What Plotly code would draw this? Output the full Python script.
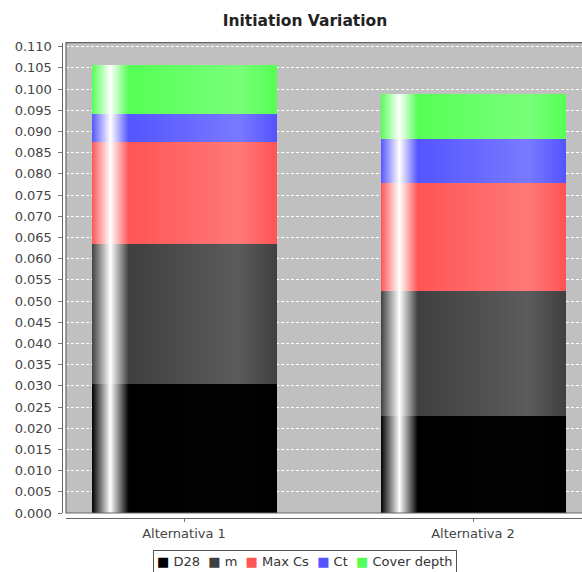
import plotly.graph_objects as go

# ---- data -----------------------------------------------------------------
categories = ["Alternativa 1", "Alternativa 2"]
series_names = ["D28", "m", "Max Cs", "Ct", "Cover depth"]
d28 = [0.0304, 0.0229]
m = [0.0332, 0.0295]
max_cs = [0.0240, 0.0256]
ct = [0.0067, 0.0104]
cover_depth = [0.0114, 0.0104]
series_values = [d28, m, max_cs, ct, cover_depth]

# base colours of each series (RGB)
series_colors = [(0, 0, 0), (64, 64, 64), (255, 85, 85), (85, 85, 255), (85, 255, 85)]

W, H = 582, 572
BAR_WIDTH = 0.637      # in category units
N_STRIPS = 184         # horizontal resolution of the bar shading


def brighter(c):
    """Same rule as java.awt.Color.brighter()."""
    r, g, b = c
    i = int(1.0 / (1.0 - 0.7))
    if r == 0 and g == 0 and b == 0:
        return (i, i, i)
    out = []
    for v in (r, g, b):
        if 0 < v < i:
            v = i
        out.append(min(int(v / 0.7), 255))
    return tuple(out)


def lerp(a, b, f):
    return tuple(int(round(a[j] + (b[j] - a[j]) * f)) for j in range(3))


def shade(c, t, g1=0.10, g2=0.20, g3=0.80):
    """Glossy left-to-right bar gradient."""
    white = (255, 255, 255)
    c1 = brighter(c)
    if t < g1:
        col = lerp(c, white, t / g1)
    elif t < g2:
        col = lerp(white, c, (t - g1) / (g2 - g1))
    elif t < g3:
        col = lerp(c, c1, (t - g2) / (g3 - g2))
    else:
        col = lerp(c1, c, (t - g3) / (1 - g3))
    return "rgb(%d,%d,%d)" % col


# stacked geometry: x position, base and height of every segment
xs, bases, heights = [], [], []
for ci in range(len(categories)):
    run = 0.0
    for vals in series_values:
        xs.append(ci)
        bases.append(run)
        heights.append(vals[ci])
        run += vals[ci]

fig = go.Figure()
dw = BAR_WIDTH / N_STRIPS
for k in range(N_STRIPS):
    t = (k + 0.5) / N_STRIPS
    cols = [shade(c, t) for c in series_colors] * len(categories)
    fig.add_trace(go.Bar(
        x=xs, y=heights, base=bases,
        offset=-BAR_WIDTH / 2 + k * dw,
        width=BAR_WIDTH - k * dw,
        marker=dict(color=cols, line=dict(width=0)),
        showlegend=False, hoverinfo="skip",
    ))

# ---- layout ---------------------------------------------------------------
px_x = lambda p: p / W
px_y = lambda p: 1 - p / H

plot_left, plot_top, plot_bottom = 66, 42.7, 513
cat0_px, cat_step_px = 184, 289
x_lo = -(cat0_px - plot_left) / cat_step_px
x_hi = x_lo + (W - plot_left) / cat_step_px
y_top = (plot_bottom - plot_top) / ((plot_bottom - 46.7) / 0.110)

legend_text = "\u00a0\u00a0".join(
    '<span style="color:rgb(%d,%d,%d)">\u25a0</span>\u00a0%s' % (c + (n,))
    for c, n in zip(series_colors, series_names)
)

fig.update_layout(
    width=W, height=H, autosize=False,
    margin=dict(l=0, r=0, t=0, b=0),
    paper_bgcolor="white", plot_bgcolor="#c0c0c0",
    barmode="overlay", bargap=0,
    showlegend=False,
    font=dict(family="DejaVu Sans", size=13, color="#444"),
    title=dict(text="<b>Initiation Variation</b>", x=px_x(305), xanchor="center",
               y=px_y(21), yanchor="middle", yref="paper",
               font=dict(family="DejaVu Sans", size=15.5, color="#222")),
    xaxis=dict(
        domain=[px_x(plot_left), 1], range=[x_lo, x_hi],
        tickvals=list(range(len(categories))), ticktext=categories,
        ticks="outside", ticklen=3, tickcolor="#777",
        showgrid=False, zeroline=False,
        showline=True, linecolor="#666", linewidth=1,
        anchor="free", position=px_y(518),
        automargin=False, fixedrange=True,
        tickfont=dict(size=13, color="#444"),
    ),
    yaxis=dict(
        domain=[px_y(plot_bottom), px_y(plot_top)], range=[0, y_top],
        tick0=0, dtick=0.005, tickformat=".3f",
        ticks="outside", ticklen=4, tickcolor="#777",
        ticklabelstandoff=3,
        showgrid=True, gridcolor="white", gridwidth=1, griddash="3px,2px",
        zeroline=False,
        showline=True, linecolor="#666", linewidth=1,
        anchor="free", position=px_x(61.5),
        automargin=False, fixedrange=True,
        tickfont=dict(size=13, color="#444"),
    ),
    shapes=[dict(type="rect", xref="x domain", yref="y domain",
                 x0=0, x1=1.02, y0=0, y1=1,
                 line=dict(color="#666", width=1.2), layer="above")],
    annotations=[dict(
        text=legend_text, showarrow=False,
        xref="paper", yref="paper", x=px_x(305), y=px_y(561.5),
        xanchor="center", yanchor="middle",
        bordercolor="#555", borderwidth=1, borderpad=3, bgcolor="white",
        font=dict(family="DejaVu Sans", size=13, color="#333"),
    )],
)

fig.write_html("out.html", config={"displayModeBar": False})
